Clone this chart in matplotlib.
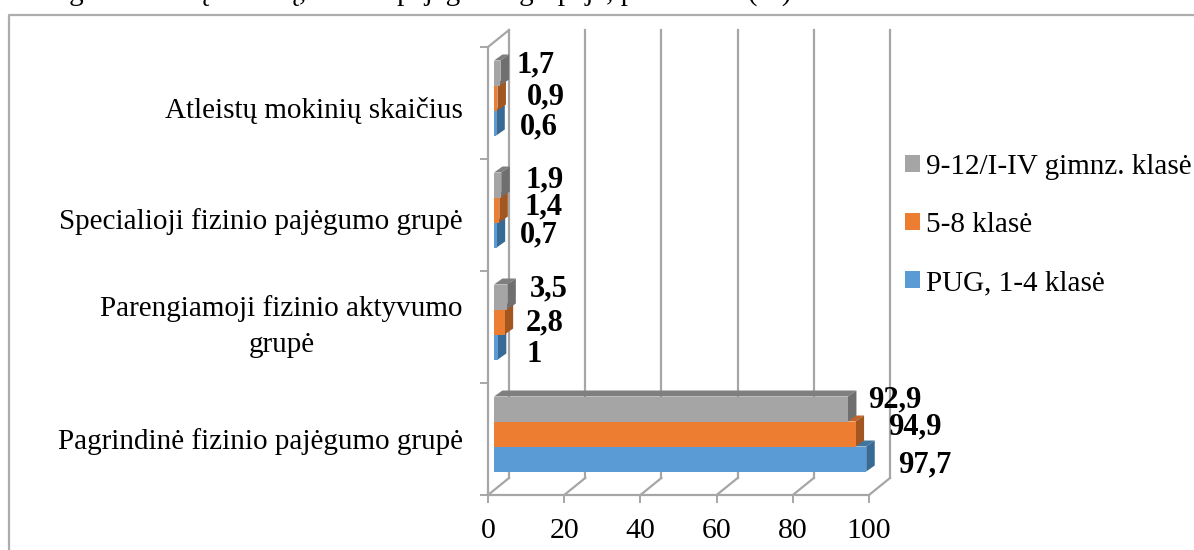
import matplotlib
matplotlib.use("Agg")
import matplotlib.pyplot as plt
from matplotlib.lines import Line2D
from matplotlib.patches import Patch

plt.rcParams['font.family'] = ['Liberation Serif', 'DejaVu Serif']

# Data, bottom group first
categories = ['Pagrindinė fizinio pajėgumo grupė',
              'Parengiamoji fizinio aktyvumo\ngrupė',
              'Specialioji fizinio pajėgumo grupė',
              'Atleistų mokinių skaičius']
series_names = ['PUG, 1-4 klasė', '5-8 klasė', '9-12/I-IV gimnz. klasė']
pug = [97.7, 1, 0.7, 0.6]
kl58 = [94.9, 2.8, 1.4, 0.9]
kl912 = [92.9, 3.5, 1.9, 1.7]
value_labels = [['97,7', '1', '0,7', '0,6'],
                ['94,9', '2,8', '1,4', '0,9'],
                ['92,9', '3,5', '1,9', '1,7']]
xticks = [0, 20, 40, 60, 80, 100]

front = ['#5B9BD5', '#ED7D31', '#A5A5A5']
side = ['#386A96', '#A3561F', '#6F6F6F']
top = ['#41759F', '#C2652A', '#7F7F7F']
grid_col = '#A6A6A6'

fig = plt.figure(figsize=(11.94, 5.5), dpi=100)
ax = fig.add_axes([488 / 1194, 55 / 550, 381 / 1194, 448 / 550])
ax.set_xlim(0, 100)
ax.set_ylim(0, 4)
px = 100 / 381
py = 4 / 448

# wall offset of the fake 3D box
wall_x, wall_y = 21 * px, 17 * py
bar_x0 = 6 * px
dep_x, dep_y = 8.5 * px, 6 * py
bar_h = 25 * py
group_shift = 5 * py

for t in xticks:
    ax.plot([t + wall_x] * 2, [wall_y, 4 + wall_y], color=grid_col, lw=1.6, clip_on=False, zorder=1)
    ax.plot([t, t + wall_x], [0, wall_y], color=grid_col, lw=1.6, clip_on=False, zorder=1)
ax.plot([0, wall_x], [4, 4 + wall_y], color=grid_col, lw=1.6, clip_on=False, zorder=1)

# blue first, the upper series cover its top face
for s, vals in enumerate([pug, kl58, kl912]):
    for g, v in enumerate(vals):
        y0 = g + 0.5 + group_shift + (s - 1.5) * bar_h
        y1 = y0 + bar_h
        x1 = bar_x0 + v
        ax.fill([bar_x0, bar_x0 + dep_x, x1 + dep_x, x1], [y1, y1 + dep_y, y1 + dep_y, y1],
                color=top[s], lw=0, clip_on=False, zorder=2 + s)
        ax.fill([x1, x1 + dep_x, x1 + dep_x, x1], [y0, y0 + dep_y, y1 + dep_y, y1],
                color=side[s], lw=0, clip_on=False, zorder=2 + s)
        ax.barh(y0, v, height=bar_h, left=bar_x0, align='edge', color=front[s], lw=0, zorder=2 + s)

# hand placed value labels, offset from the bar end in pixels
label_dx = [[32, 29, 23, 24], [33, 21, 25, 29], [20, 22, 24, 16]]
label_dy = [[-6, -7, 0, -4], [7, -1, 3, 1], [9, 8, 5, 8]]
for s, vals in enumerate([pug, kl58, kl912]):
    for g, v in enumerate(vals):
        yc = g + 0.5 + group_shift + (s - 1) * bar_h
        ax.annotate(value_labels[s][g], xy=(bar_x0 + v, yc),
                    xytext=(label_dx[s][g] * 0.72, label_dy[s][g] * 0.72), textcoords='offset points',
                    ha='left', va='center', fontsize=22, fontweight='bold', color='black',
                    annotation_clip=False, zorder=10)

for sp in ['top', 'right']:
    ax.spines[sp].set_visible(False)
for sp in ['left', 'bottom']:
    ax.spines[sp].set_color(grid_col)
    ax.spines[sp].set_linewidth(1.6)
ax.patch.set_alpha(0)

ax.set_xticks(xticks)
ax.set_yticks([0, 1, 2, 3, 4])
ax.set_yticklabels([])
ax.tick_params(axis='both', which='major', color=grid_col, width=1.4, length=5.5)
ax.tick_params(axis='x', labelsize=21.5, pad=11)
# labels sit a little below the middle of each band
ax.set_yticks([0.5 - 3 * py, 1.5, 2.5 - 7 * py, 3.5 - 8 * py], labels=categories, minor=True)
ax.tick_params(axis='y', which='minor', length=0, pad=18, labelsize=21)
for lab in ax.get_yticklabels(minor=True):
    lab.set_multialignment('center')
    lab.set_va('center')
    lab.set_linespacing(1.5)

handles = [Patch(color=c, lw=0) for c in front[::-1]]
fig.legend(handles, series_names[::-1], loc='upper left', bbox_to_anchor=(905 / 1194, 1 - 154 / 550),
           frameon=False, fontsize=21, handlelength=0.51, handleheight=0.51, handletextpad=0.2,
           labelspacing=1.1, borderpad=0, borderaxespad=0)

# chart frame, cut off by the picture at right and bottom
fig.add_artist(Line2D([9 / 1194, 9 / 1194, 1], [0, 1 - 15 / 550, 1 - 15 / 550], color='#ADADAD', lw=1.6))
# caption line above the chart, cut by the picture edge
fig.text(40 / 1194, 1.0, 'Pagal mokinių skaičių, fizinio pajėgumo grupėje, procentais (%)',
         fontsize=21, va='baseline', ha='left', color='black')

fig.savefig('out.png', dpi=100)
